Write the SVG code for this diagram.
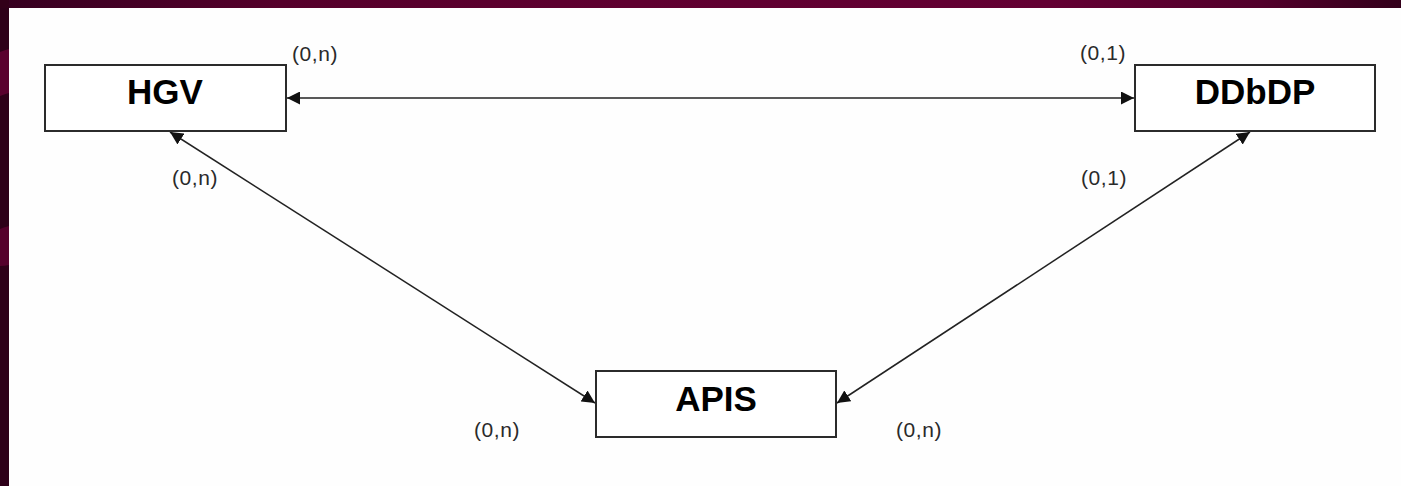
<svg xmlns="http://www.w3.org/2000/svg" width="1401" height="486" viewBox="0 0 1401 486">
  <style>
    .box { fill: #ffffff; stroke: #2b2b2b; stroke-width: 2; }
    .title { font-family: "Liberation Sans", Arial, sans-serif; font-weight: bold; font-size: 35px; fill: #000000; text-anchor: middle; }
    .card { font-family: "Liberation Sans", Arial, sans-serif; font-size: 21px; letter-spacing: 0.6px; fill: #2a2a2a; }
    .link { fill: none; stroke: #222222; stroke-width: 1.5; }
  </style>
  <defs>
    <linearGradient id="topBar" x1="0" y1="0" x2="1" y2="0">
      <stop offset="0" stop-color="#360020"/>
      <stop offset="0.2" stop-color="#55002b"/>
      <stop offset="0.45" stop-color="#5f0030"/>
      <stop offset="0.75" stop-color="#630033"/>
      <stop offset="0.9" stop-color="#52002b"/>
      <stop offset="1" stop-color="#33001b"/>
    </linearGradient>
    <marker id="arrow" markerUnits="userSpaceOnUse" markerWidth="14" markerHeight="13" refX="13" refY="6.5" orient="auto-start-reverse">
      <path d="M0,0 L13,6.5 L0,13 z" fill="#111111"/>
    </marker>
  </defs>

  <!-- frame -->
  <rect x="0" y="0" width="1401" height="486" fill="#fefefe"/>
  <rect x="0" y="0" width="1401" height="8" fill="url(#topBar)"/>
  <rect x="0" y="0" width="9" height="486" fill="#2e0019"/>
  <path d="M0,52 Q5,50 9,49 L9,93 Q5,94 0,96 z" fill="#5a002e"/>
  <path d="M0,229 Q5,227 9,226 L9,265 Q5,266 0,266 z" fill="#55002c"/>
  <path d="M0,0 L9,0 L9,8 L0,8 z" fill="#320019"/>

  <!-- connectors -->
  <g id="connectors">
    <line class="link" x1="287" y1="98" x2="1134" y2="98" marker-start="url(#arrow)" marker-end="url(#arrow)"/>
    <line class="link" x1="170" y1="132" x2="595" y2="403" marker-start="url(#arrow)" marker-end="url(#arrow)"/>
    <line class="link" x1="1250" y1="132" x2="837" y2="403" marker-start="url(#arrow)" marker-end="url(#arrow)"/>
  </g>

  <!-- entities -->
  <g id="hgv">
    <rect class="box" x="45" y="65" width="241" height="66"/>
    <text class="title" x="165" y="104">HGV</text>
  </g>
  <g id="ddbdp">
    <rect class="box" x="1135" y="65" width="240" height="66"/>
    <text class="title" x="1255" y="104">DDbDP</text>
  </g>
  <g id="apis">
    <rect class="box" x="596" y="371" width="240" height="66"/>
    <text class="title" x="716" y="411">APIS</text>
  </g>

  <!-- cardinalities -->
  <g id="cardinalities">
    <text class="card" x="292" y="61">(0,n)</text>
    <text class="card" x="172" y="185">(0,n)</text>
    <text class="card" x="1080" y="60">(0,1)</text>
    <text class="card" x="1081" y="185">(0,1)</text>
    <text class="card" x="474" y="437">(0,n)</text>
    <text class="card" x="896" y="437">(0,n)</text>
  </g>
</svg>
